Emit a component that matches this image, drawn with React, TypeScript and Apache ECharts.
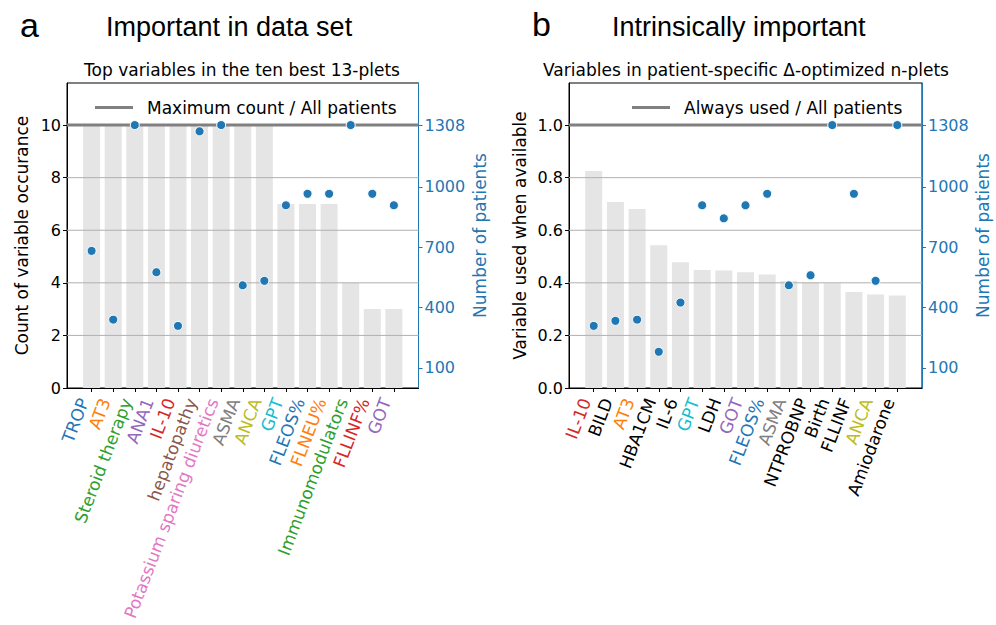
import React, { useEffect, useRef } from "react";
import * as echarts from "echarts";

const BLUE = "#1f77b4";
const ORANGE = "#ff7f0e";
const GREEN = "#2ca02c";
const RED = "#d62728";
const PURPLE = "#9467bd";
const BROWN = "#8c564b";
const PINK = "#e377c2";
const GRAY = "#7f7f7f";
const OLIVE = "#bcbd22";
const CYAN = "#17becf";
const BLACK = "#000000";

// Panel a
const catsA = [
  "TROP", "AT3", "Steroid therapy", "ANA1", "IL-10", "hepatopathy",
  "Potassium sparing diuretics", "ASMA", "ANCA", "GPT", "FLEOS%", "FLNEU%",
  "Immunomodulators", "FLLINF%", "GOT",
];
const labelColorsA = [
  BLUE, ORANGE, GREEN, PURPLE, RED, BROWN, PINK, GRAY, OLIVE, CYAN, BLUE, ORANGE, GREEN, RED, PURPLE,
];
const countsA = [10, 10, 10, 10, 10, 10, 10, 10, 10, 7, 7, 7, 4, 3, 3];
const patientsA = [682, 340, 1308, 576, 309, 1277, 1308, 511, 533, 909, 966, 966, 1308, 966, 909];
const maxCountA = 10;
const leftTicksA = [0, 2, 4, 6, 8, 10];
const gridLinesA = [2, 4, 6, 8];

// Panel b
const catsB = [
  "IL-10", "BILD", "AT3", "HBA1CM", "IL-6", "GPT", "LDH", "GOT", "FLEOS%", "ASMA",
  "NTPROBNP", "Birth", "FLLINF", "ANCA", "Amiodarone",
];
const labelColorsB = [
  RED, BLACK, ORANGE, BLACK, BLACK, CYAN, BLACK, PURPLE, BLUE, GRAY, BLACK, BLACK, BLACK, OLIVE, BLACK,
];
const usedB = [0.825, 0.707, 0.681, 0.543, 0.478, 0.449, 0.447, 0.44, 0.432, 0.407, 0.402, 0.398, 0.365, 0.356, 0.352];
const patientsB = [309, 334, 340, 180, 425, 909, 844, 909, 966, 511, 561, 1308, 966, 533, 1308];
const maxUsedB = 1.0;
const leftTicksB = [0, 0.2, 0.4, 0.6, 0.8, 1.0];
const gridLinesB = [0.2, 0.4, 0.6, 0.8];

// Shared
const allPatients = 1308;
const rightTicks = [100, 400, 700, 1000, 1308];
const legendA = "Maximum count / All patients";
const legendB = "Always used / All patients";

const FONT = "DejaVu Sans";
const X_MIN = -1.14;
const X_MAX = 15.14;
const Y_TOP_FRAC = 11.6 / 10; // headroom above the max line

function buildPanel(
  gi: number,
  cats: string[],
  colors: string[],
  bars: number[],
  patients: number[],
  maxVal: number,
  leftTicks: number[],
  gridLines: number[],
  legendName: string,
  yName: string,
  leftNameGap: number,
  rightNameGap: number,
  leftFmt: (v: number) => string
) {
  const idx = cats.map((_, i) => i);
  const leftMax = maxVal * Y_TOP_FRAC;
  const rightMax = allPatients * Y_TOP_FRAC;
  const xAxis = {
    type: "value",
    gridIndex: gi,
    min: X_MIN,
    max: X_MAX,
    splitLine: { show: false },
    axisLine: { show: true, onZero: false, lineStyle: { color: "#000", width: 1 } },
    axisTick: { show: true, customValues: idx, length: 4, lineStyle: { color: "#000" } },
    axisLabel: {
      customValues: idx,
      formatter: (v: number) => cats[Math.round(v)] ?? "",
      color: (v: any) => colors[Math.round(Number(v))] ?? "#000",
      rotate: 69,
      fontSize: 17,
      fontFamily: FONT,
      margin: 14,
      verticalAlign: "bottom",
    },
  };
  const yLeft = {
    type: "value",
    gridIndex: gi,
    position: "left",
    min: 0,
    max: leftMax,
    splitLine: { show: false },
    axisLine: { show: true, onZero: false, lineStyle: { color: "#000" } },
    axisTick: { show: true, customValues: leftTicks, length: 4, lineStyle: { color: "#000" } },
    axisLabel: {
      customValues: leftTicks,
      formatter: leftFmt,
      color: "#000",
      fontSize: 16,
      fontFamily: FONT,
      margin: 6,
    },
    name: yName,
    nameLocation: "middle",
    nameRotate: 90,
    nameGap: leftNameGap,
    nameTextStyle: { fontSize: 17, fontFamily: FONT, color: "#000" },
  };
  const yRight = {
    type: "value",
    gridIndex: gi,
    position: "right",
    min: 0,
    max: rightMax,
    splitLine: { show: false },
    axisLine: { show: true, onZero: false, lineStyle: { color: BLUE } },
    axisTick: { show: true, customValues: rightTicks, length: 4, lineStyle: { color: BLUE } },
    axisLabel: {
      customValues: rightTicks,
      formatter: (v: number) => String(v),
      color: BLUE,
      fontSize: 16,
      fontFamily: FONT,
      margin: 6,
    },
    name: "Number of patients",
    nameLocation: "middle",
    nameRotate: 90,
    nameGap: rightNameGap,
    nameTextStyle: { fontSize: 17, fontFamily: FONT, color: BLUE },
  };
  const gridSeries = gridLines.map((g) => ({
    type: "line",
    xAxisIndex: gi,
    yAxisIndex: gi * 2,
    data: [
      [X_MIN, g],
      [X_MAX, g],
    ],
    symbol: "none",
    silent: true,
    lineStyle: { color: "#b0b0b0", width: 1 },
    z: 2,
  }));
  const series = [
    {
      type: "bar",
      xAxisIndex: gi,
      yAxisIndex: gi * 2,
      data: bars.map((v, i) => [i, v]),
      barWidth: 17,
      itemStyle: { color: "#e5e5e5" },
      z: 1,
    },
    ...gridSeries,
    {
      type: "line",
      name: legendName,
      xAxisIndex: gi,
      yAxisIndex: gi * 2,
      data: [
        [X_MIN, maxVal],
        [X_MAX, maxVal],
      ],
      symbol: "none",
      lineStyle: { color: "#808080", width: 3 },
      itemStyle: { color: "#808080" },
      z: 3,
    },
    {
      type: "scatter",
      xAxisIndex: gi,
      yAxisIndex: gi * 2 + 1,
      data: patients.map((v, i) => [i, v]),
      symbolSize: 9,
      itemStyle: { color: BLUE, borderColor: "#fff", borderWidth: 1, opacity: 1 },
      z: 5,
    },
  ];
  return { xAxis, yAxes: [yLeft, yRight], series };
}

export default function App() {
  const ref = useRef<HTMLDivElement>(null);
  useEffect(() => {
    document.body.style.margin = "0";
    if (!ref.current) return;
    const chart = echarts.init(ref.current, null, { renderer: "svg" });
    const pa = buildPanel(
      0, catsA, labelColorsA, countsA, patientsA, maxCountA, leftTicksA, gridLinesA,
      legendA, "Count of variable occurance", 37, 53, (v) => String(v)
    );
    const pb = buildPanel(
      1, catsB, labelColorsB, usedB, patientsB, maxUsedB, leftTicksB, gridLinesB,
      legendB, "Variable used when available", 41, 52, (v) => v.toFixed(1)
    );
    const legendCommon = {
      orient: "horizontal",
      icon: "rect",
      itemWidth: 38,
      itemHeight: 3,
      padding: 0,
      selectedMode: false,
      textStyle: { fontSize: 17, fontFamily: FONT, color: "#000", padding: [0, 0, 0, 9] },
    };
    const option: any = {
      animation: false,
      backgroundColor: "#fff",
      grid: [
        { left: 67, top: 83, width: 351.5, height: 305, show: true, borderColor: "#000", borderWidth: 1, backgroundColor: "transparent", containLabel: false },
        { left: 569, top: 83, width: 353, height: 305, show: true, borderColor: "#000", borderWidth: 1, backgroundColor: "transparent", containLabel: false },
      ],
      legend: [
        { ...legendCommon, data: [legendA], left: 95, top: 99 },
        { ...legendCommon, data: [legendB], left: 632, top: 99 },
      ],
      xAxis: [pa.xAxis, pb.xAxis],
      yAxis: [...pa.yAxes, ...pb.yAxes],
      series: [...pa.series, ...pb.series],
      graphic: [
        { type: "text", x: 20, y: 25, style: { text: "a", font: "34px 'Liberation Sans'", fill: "#000", align: "left", verticalAlign: "middle", textAlign: "left", textVerticalAlign: "middle" } },
        { type: "text", x: 106, y: 27, style: { text: "Important in data set", font: "27px 'Liberation Sans'", fill: "#000", align: "left", verticalAlign: "middle", textAlign: "left", textVerticalAlign: "middle" } },
        { type: "text", x: 242, y: 70, style: { text: "Top variables in the ten best 13-plets", font: "17px 'DejaVu Sans'", fill: "#000", align: "center", verticalAlign: "middle", textAlign: "center", textVerticalAlign: "middle" } },
        { type: "text", x: 532, y: 24, style: { text: "b", font: "34px 'Liberation Sans'", fill: "#000", align: "left", verticalAlign: "middle", textAlign: "left", textVerticalAlign: "middle" } },
        { type: "text", x: 612, y: 27, style: { text: "Intrinsically important", font: "27px 'Liberation Sans'", fill: "#000", align: "left", verticalAlign: "middle", textAlign: "left", textVerticalAlign: "middle" } },
        { type: "text", x: 746, y: 70, style: { text: "Variables in patient-specific Δ-optimized n-plets", font: "17px 'DejaVu Sans'", fill: "#000", align: "center", verticalAlign: "middle", textAlign: "center", textVerticalAlign: "middle" } },
      ],
    };
    chart.setOption(option);
    return () => chart.dispose();
  }, []);
  return (
    <div
      ref={ref}
      style={{ position: "absolute", left: 0, top: 0, width: 996, height: 625 }}
    />
  );
}
